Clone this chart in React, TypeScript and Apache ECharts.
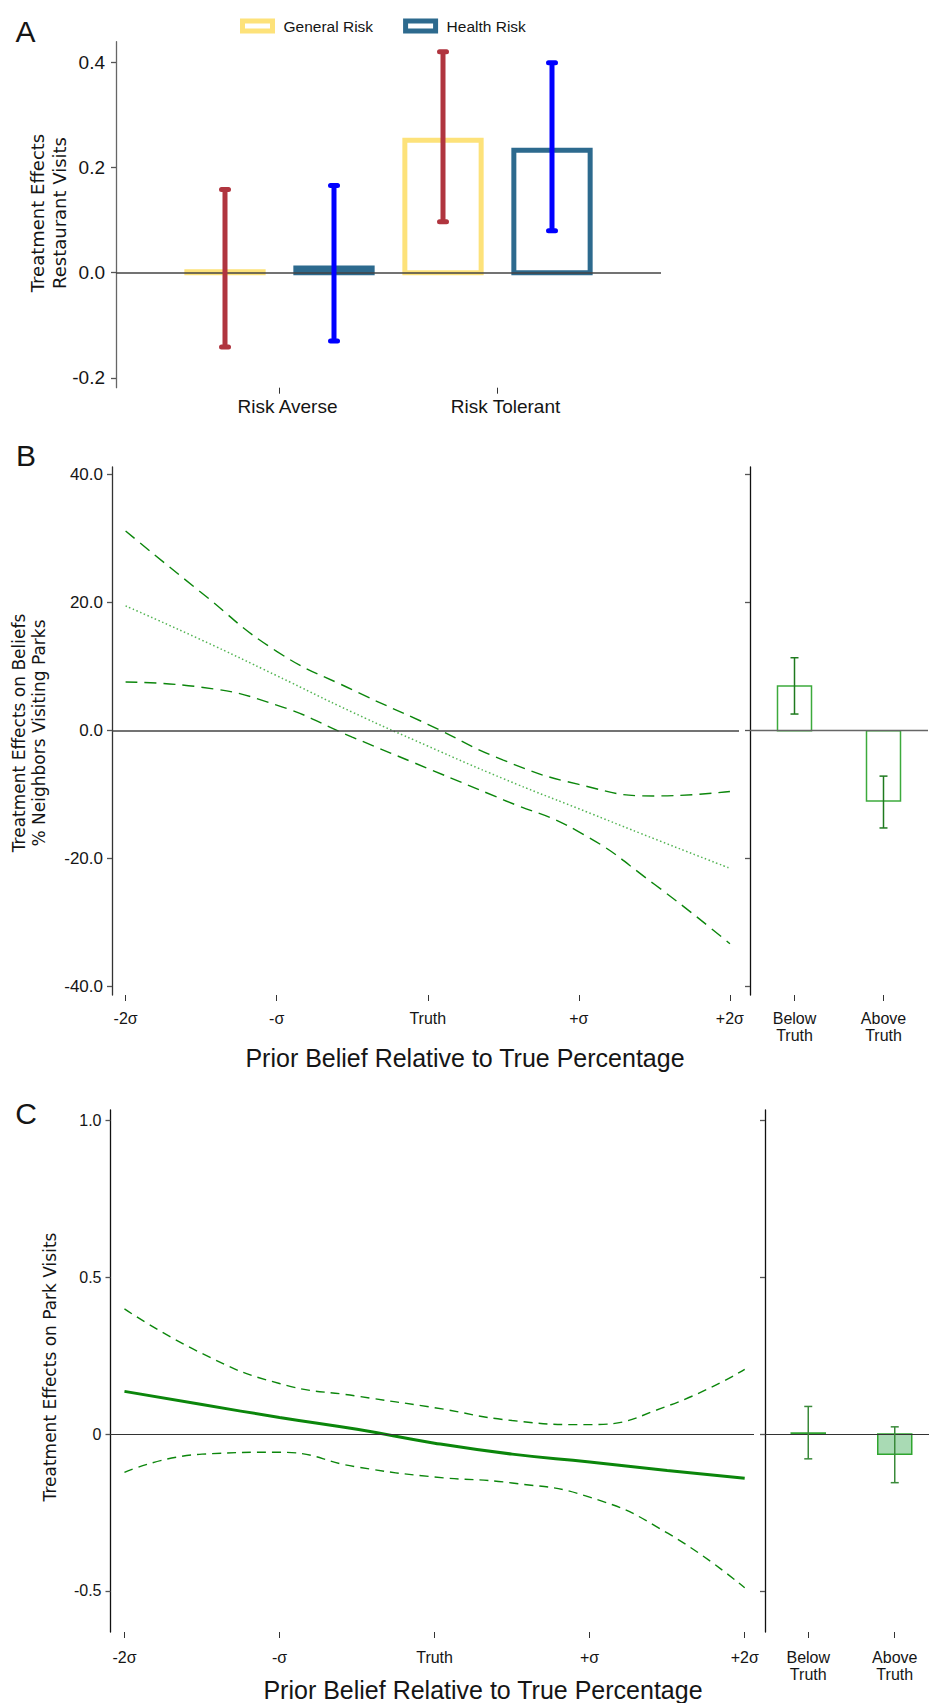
import React, { useEffect, useRef } from "react";
import * as echarts from "echarts";

// ---------- Panel A data ----------
const riskGroups = ["Risk Averse", "Risk Tolerant"];
const generalRiskEffect = [0.002, 0.252];
const generalRiskLow = [-0.141, 0.097];
const generalRiskHigh = [0.158, 0.42];
const healthRiskEffect = [0.009, 0.233];
const healthRiskLow = [-0.13, 0.08];
const healthRiskHigh = [0.166, 0.399];
const riskTicks = [-0.2, 0, 0.2, 0.4];

// ---------- Shared x (prior belief) ----------
const priorSigma = [-2, -1.5, -1, -0.5, 0, 0.5, 1, 1.5, 2];
const sigmaTicks = [-2, -1, 0, 1, 2];
const sigmaTickLabels = ["-2σ", "-σ", "Truth", "+σ", "+2σ"];
const truthGroups = ["Below Truth", "Above Truth"];

// ---------- Panel B data ----------
const beliefFit = [19.5, 14.2, 8.6, 2.9, -2.4, -7.5, -12.2, -16.9, -21.5];
const beliefUpper = [31.2, 21.6, 12.4, 6.4, 1.0, -4.6, -8.4, -10.2, -9.5];
const beliefLower = [7.6, 6.8, 4.0, -1.0, -5.9, -10.8, -15.8, -24.0, -33.3];
const beliefTicks = [-40, -20, 0, 20, 40];
const beliefGroupEffect = [7.0, -11.0];
const beliefGroupLow = [2.6, -15.2];
const beliefGroupHigh = [11.4, -7.1];

// ---------- Panel C data ----------
const parkFit = [0.136, 0.094, 0.053, 0.015, -0.029, -0.064, -0.089, -0.116, -0.141];
const parkUpper = [0.399, 0.257, 0.161, 0.121, 0.084, 0.043, 0.03, 0.089, 0.206];
const parkLower = [-0.122, -0.064, -0.058, -0.105, -0.137, -0.156, -0.201, -0.315, -0.49];
const parkTicks = [-0.5, 0, 0.5, 1];
const parkGroupEffect = [0.003, -0.064];
const parkGroupLow = [-0.079, -0.155];
const parkGroupHigh = [0.088, 0.023];

const SANS = "'Liberation Sans', Arial, sans-serif";
const WIDE = "'DejaVu Sans', sans-serif";
const YELLOW = "#FDE27A";
const STEEL = "#2D6A8E";
const RED = "#B0353F";
const BLUE = "#0000FF";
const GREEN = "#0B860B";
const GREEN_DOT = "#52B452";
const BAR_GREEN = "#3CAA3C";
const ERR_GREEN = "#1E7A1E";
const FILL_GREEN = "#A9DAB4";
const TEXT = "#151515";

function barSeriesA(name: string, color: string, values: number[], offset: number) {
  return {
    type: "custom",
    name,
    xAxisIndex: 0,
    yAxisIndex: 0,
    itemStyle: { color },
    encode: { x: 0, y: 1 },
    data: values.map((v, i) => [i + offset, v]),
    renderItem: (params: any, api: any) => {
      const x = api.value(0);
      const v = api.value(1);
      const base = api.coord([x, 0]);
      const top = api.coord([x, v]);
      const w = api.size([0.35, 0])[0];
      return {
        type: "rect",
        shape: {
          x: base[0] - w / 2,
          y: Math.min(base[1], top[1]),
          width: w,
          height: Math.abs(base[1] - top[1]),
        },
        style: { fill: "rgba(0,0,0,0)", stroke: color, lineWidth: 5 },
      };
    },
  };
}

function groupBarSeries(xi: number, yi: number, values: number[], fill: string, stroke: string, extra: any = {}) {
  return {
    type: "custom",
    xAxisIndex: xi,
    yAxisIndex: yi,
    encode: { x: 0, y: 1 },
    data: values.map((v, i) => [i, v]),
    renderItem: (params: any, api: any) => {
      const x = api.value(0);
      const base = api.coord([x, 0]);
      const top = api.coord([x, api.value(1)]);
      const w = 34;
      return {
        type: "rect",
        shape: {
          x: base[0] - w / 2,
          y: Math.min(base[1], top[1]),
          width: w,
          height: Math.max(Math.abs(base[1] - top[1]), 0.5),
        },
        style: { fill, stroke, lineWidth: 1.5 },
      };
    },
    ...extra,
  };
}

function errorSeries(
  xi: number,
  yi: number,
  data: number[][],
  color: string,
  lineWidth: number,
  capHalf: number,
  round: boolean
) {
  return {
    type: "custom",
    xAxisIndex: xi,
    yAxisIndex: yi,
    encode: { x: 0, y: [1, 2] },
    data,
    z: 5,
    renderItem: (params: any, api: any) => {
      const x = api.value(0);
      const a = api.coord([x, api.value(1)]);
      const b = api.coord([x, api.value(2)]);
      const cap = { stroke: color, lineWidth, lineCap: round ? "round" : "butt" };
      return {
        type: "group",
        children: [
          { type: "line", shape: { x1: a[0], y1: a[1], x2: b[0], y2: b[1] }, style: { stroke: color, lineWidth } },
          { type: "line", shape: { x1: a[0] - capHalf, y1: a[1], x2: a[0] + capHalf, y2: a[1] }, style: cap },
          { type: "line", shape: { x1: b[0] - capHalf, y1: b[1], x2: b[0] + capHalf, y2: b[1] }, style: cap },
        ],
      };
    },
  };
}

function zeroLine(color: string, width: number) {
  return {
    silent: true,
    symbol: "none",
    label: { show: false },
    lineStyle: { color, width, type: "solid" },
    data: [{ yAxis: 0 }],
  };
}

function curve(xi: number, yi: number, values: number[], color: string, width: number, type: any, extra: any = {}) {
  return {
    type: "line",
    xAxisIndex: xi,
    yAxisIndex: yi,
    data: priorSigma.map((s, i) => [s, values[i]]),
    smooth: 0.5,
    showSymbol: false,
    symbol: "none",
    lineStyle: { color, width, type },
    ...extra,
  };
}

function sigmaXAxis(grid: number, margin: number) {
  return {
    type: "value",
    gridIndex: grid,
    min: -2.09,
    max: 2.06,
    position: "bottom",
    axisLine: { show: false, onZero: false },
    splitLine: { show: false },
    axisTick: { show: true, customValues: sigmaTicks, length: 6, lineStyle: { color: "#333", width: 1 } },
    axisLabel: {
      customValues: sigmaTicks,
      formatter: (v: number) => sigmaTickLabels[sigmaTicks.indexOf(Math.round(v))] ?? "",
      fontSize: 16,
      fontFamily: SANS,
      color: TEXT,
      margin,
      lineHeight: 17,
    },
  };
}

// group axis: groups sit at 0 and 1 on a value scale
function truthXAxis(grid: number, margin: number, max: number) {
  const positions = truthGroups.map((_, i) => i);
  return {
    type: "value",
    gridIndex: grid,
    min: -0.5,
    max,
    position: "bottom",
    axisLine: { show: false, onZero: false },
    splitLine: { show: false },
    axisTick: { show: true, customValues: positions, length: 6, lineStyle: { color: "#333", width: 1 } },
    axisLabel: {
      customValues: positions,
      formatter: (v: number) => (truthGroups[Math.round(v)] ?? "").replace(" ", "\n"),
      fontSize: 16,
      fontFamily: SANS,
      color: TEXT,
      margin,
      lineHeight: 17,
    },
  };
}

function valueYAxis(
  grid: number,
  min: number,
  max: number,
  ticks: number[],
  labels: boolean,
  fmt: (v: number) => string,
  fontSize: number,
  margin: number,
  axisColor: string
) {
  return {
    type: "value",
    gridIndex: grid,
    min,
    max,
    position: "left",
    splitLine: { show: false },
    axisLine: { show: true, onZero: false, lineStyle: { color: axisColor, width: 1.3 } },
    axisTick: { show: true, customValues: ticks, length: 5, lineStyle: { color: "#555", width: 1.3 } },
    axisLabel: labels
      ? { show: true, customValues: ticks, formatter: fmt, fontSize, fontFamily: SANS, color: TEXT, margin }
      : { show: false },
  };
}

function buildOption() {
  const catCenters = riskGroups.map((_, i) => i + 0.75);
  return {
    animation: false,
    backgroundColor: "#ffffff",
    legend: {
      left: 235,
      top: 13,
      itemWidth: 30,
      itemHeight: 10,
      itemGap: 30,
      selectedMode: false,
      textStyle: { fontSize: 15.5, fontFamily: SANS, color: TEXT, padding: [0, 0, 0, 6] },
      data: [
        { name: "General Risk", icon: "rect", itemStyle: { color: "#ffffff", borderColor: YELLOW, borderWidth: 5 } },
        { name: "Health Risk", icon: "rect", itemStyle: { color: "#ffffff", borderColor: STEEL, borderWidth: 5 } },
      ],
    },
    grid: [
      { left: 116, top: 41.7, width: 545, height: 346 },
      { left: 112, top: 467, width: 627, height: 528 },
      { left: 750, top: 467, width: 178, height: 528 },
      { left: 110.5, top: 1110, width: 643.5, height: 522 },
      { left: 765, top: 1110, width: 164, height: 522 },
    ],
    xAxis: [
      {
        type: "value",
        gridIndex: 0,
        min: 0,
        max: 2.5,
        position: "bottom",
        axisLine: { show: false, onZero: false },
        splitLine: { show: false },
        axisTick: { show: true, customValues: catCenters, length: 6, lineStyle: { color: "#333", width: 1 } },
        axisLabel: {
          customValues: catCenters,
          formatter: (v: number) => riskGroups[Math.round(v - 0.75)] ?? "",
          fontSize: 19,
          fontFamily: SANS,
          color: TEXT,
          margin: 9,
          padding: [0, 0, 0, 16],
        },
      },
      sigmaXAxis(1, 15),
      truthXAxis(2, 15, 1.5),
      sigmaXAxis(3, 17),
      truthXAxis(4, 17, 1.396),
    ],
    yAxis: [
      valueYAxis(0, -0.2186, 0.4392, riskTicks, true, (v) => v.toFixed(1), 19, 11, "#666"),
      valueYAxis(1, -41.3, 41.2, beliefTicks, true, (v) => v.toFixed(1), 17, 9, "#333"),
      valueYAxis(2, -41.3, 41.2, beliefTicks, false, (v) => "", 16, 9, "#111"),
      valueYAxis(3, -0.631, 1.033, parkTicks, true, (v) => (v === 0 ? "0" : v.toFixed(1)), 16, 9, "#111"),
      valueYAxis(4, -0.631, 1.033, parkTicks, false, (v) => "", 16, 9, "#111"),
    ],
    graphic: [
      { type: "text", x: 25.5, y: 31, style: { text: "A", fontSize: 30, fontFamily: SANS, fill: TEXT, textAlign: "center", textVerticalAlign: "middle" } },
      { type: "text", x: 26, y: 455, style: { text: "B", fontSize: 30, fontFamily: SANS, fill: TEXT, textAlign: "center", textVerticalAlign: "middle" } },
      { type: "text", x: 26, y: 1113, style: { text: "C", fontSize: 30, fontFamily: SANS, fill: TEXT, textAlign: "center", textVerticalAlign: "middle" } },
      {
        type: "text",
        x: 48,
        y: 213,
        rotation: Math.PI / 2,
        style: { text: "Treatment Effects\nRestaurant Visits", fontSize: 18, lineHeight: 22, fontFamily: WIDE, fill: TEXT, textAlign: "center", textVerticalAlign: "middle" },
      },
      {
        type: "text",
        x: 29,
        y: 733,
        rotation: Math.PI / 2,
        style: { text: "Treatment Effects on Beliefs\n% Neighbors Visiting Parks", fontSize: 17, lineHeight: 20, fontFamily: WIDE, fill: TEXT, textAlign: "center", textVerticalAlign: "middle" },
      },
      {
        type: "text",
        x: 50,
        y: 1367,
        rotation: Math.PI / 2,
        style: { text: "Treatment Effects on Park Visits", fontSize: 17, fontFamily: WIDE, fill: TEXT, textAlign: "center", textVerticalAlign: "middle" },
      },
      { type: "text", x: 465, y: 1058, style: { text: "Prior Belief Relative to True Percentage", fontSize: 25, fontFamily: SANS, fill: TEXT, textAlign: "center", textVerticalAlign: "middle" } },
      { type: "text", x: 483, y: 1690, style: { text: "Prior Belief Relative to True Percentage", fontSize: 25, fontFamily: SANS, fill: TEXT, textAlign: "center", textVerticalAlign: "middle" } },
    ],
    series: [
      // Panel A
      { ...barSeriesA("General Risk", YELLOW, generalRiskEffect, 0.5), markLine: zeroLine("#444", 1.5) },
      barSeriesA("Health Risk", STEEL, healthRiskEffect, 1.0),
      errorSeries(0, 0, riskGroups.map((_, i) => [i + 0.5, generalRiskLow[i], generalRiskHigh[i]]), RED, 5, 3.5, true),
      errorSeries(0, 0, riskGroups.map((_, i) => [i + 1.0, healthRiskLow[i], healthRiskHigh[i]]), BLUE, 5, 3.5, true),

      // Panel B main
      curve(1, 1, beliefFit, GREEN_DOT, 1.5, [1.5, 2.5], { markLine: zeroLine("#444", 1.5) }),
      curve(1, 1, beliefUpper, GREEN, 1.4, [12, 7]),
      curve(1, 1, beliefLower, GREEN, 1.4, [12, 7]),
      // Panel B right
      groupBarSeries(2, 2, beliefGroupEffect, "rgba(255,255,255,0)", BAR_GREEN, { markLine: zeroLine("#666", 1.3) }),
      errorSeries(2, 2, truthGroups.map((_, i) => [i, beliefGroupLow[i], beliefGroupHigh[i]]), ERR_GREEN, 1.5, 4, false),

      // Panel C main
      curve(3, 3, parkFit, GREEN, 3, "solid", { markLine: zeroLine("#333", 1.2) }),
      curve(3, 3, parkUpper, GREEN, 1.4, [9, 6]),
      curve(3, 3, parkLower, GREEN, 1.4, [9, 6]),
      // Panel C right
      groupBarSeries(4, 4, parkGroupEffect, FILL_GREEN, "#2FA52F", { markLine: zeroLine("#333", 1.2) }),
      errorSeries(4, 4, truthGroups.map((_, i) => [i, parkGroupLow[i], parkGroupHigh[i]]), "#3A8A3A", 1.5, 4, false),
    ],
  };
}

export default function App() {
  const ref = useRef<HTMLDivElement>(null);
  useEffect(() => {
    document.body.style.margin = "0";
    const chart = echarts.init(ref.current as HTMLDivElement, null, { renderer: "svg" });
    chart.setOption(buildOption() as any);
    return () => chart.dispose();
  }, []);
  return <div ref={ref} style={{ width: 929, height: 1703 }} />;
}
